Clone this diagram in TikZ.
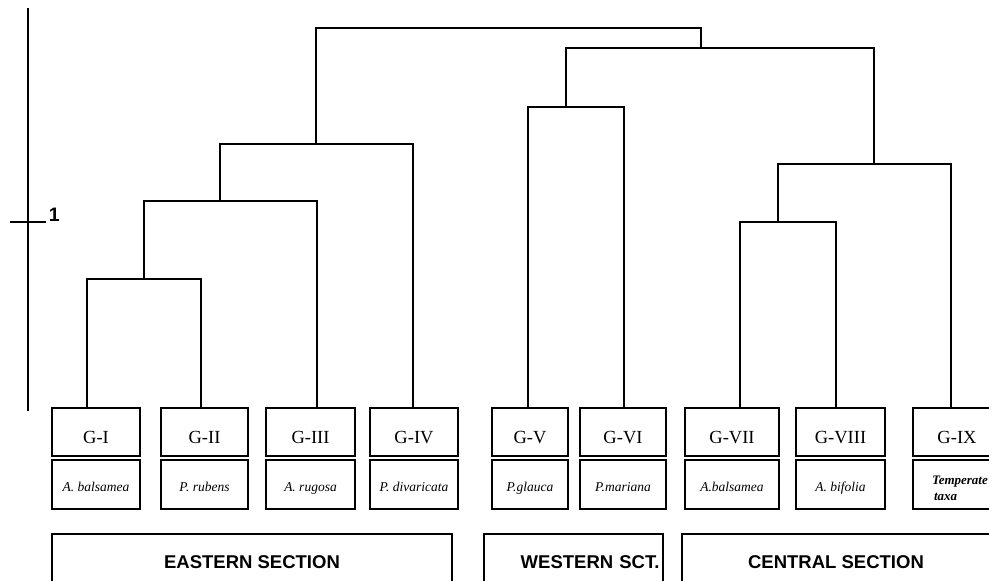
\documentclass[tikz,border=0pt]{standalone}
\usepackage{fontspec}
\setmainfont{Liberation Serif}
\setsansfont{Liberation Sans}
\usetikzlibrary{positioning}

\begin{document}
\begin{tikzpicture}[x=1pt,y=-1pt,line width=1.6pt,node distance=4pt,
  gbox/.style={draw,inner sep=0pt,outer sep=0pt,minimum width=88pt,minimum height=48pt,
    text height=22pt,text depth=0pt,font=\fontsize{18.5}{20}\selectfont},
  sbox/.style={draw,inner sep=0pt,outer sep=0pt,minimum width=88pt,minimum height=49pt,
    text height=14pt,text depth=0pt,font=\fontsize{13.5}{15}\selectfont\itshape},
  secbox/.style={draw,inner sep=0pt,outer sep=0pt,minimum height=56pt,
    font=\fontsize{18.5}{20}\selectfont\sffamily\bfseries}]
\useasboundingbox (0,0) rectangle (989,581);
\clip (0,0) rectangle (989,581);

\draw (28,8) -- (28,411);
\draw (10,222) -- (46,222);
\node[anchor=south west,inner sep=0pt,font=\fontsize{19.5}{20}\selectfont\sffamily\bfseries] (one) at (48,222) {1};

\node[gbox] (g1) at (96,432) {G-I};
\node[gbox,minimum width=87pt] (g2) at (204.5,432) {G-II};
\node[gbox,minimum width=89pt] (g3) at (310.5,432) {G-III};
\node[gbox] (g4) at (414,432) {G-IV};
\node[gbox,minimum width=76pt] (g5) at (530,432) {G-V};
\node[gbox,minimum width=86pt] (g6) at (623,432) {G-VI};
\node[gbox,minimum width=94pt] (g7) at (732,432) {G-VII};
\node[gbox,minimum width=89pt] (g8) at (840.5,432) {G-VIII};
\node[gbox] (g9) at (957,432) {G-IX};

\node[sbox,below=of g1] (s1) {A. balsamea};
\node[sbox,minimum width=87pt,below=of g2] (s2) {P. rubens};
\node[sbox,minimum width=89pt,below=of g3] (s3) {A. rugosa};
\node[sbox,below=of g4] (s4) {P. divaricata};
\node[sbox,minimum width=76pt,below=of g5] (s5) {P.glauca};
\node[sbox,minimum width=86pt,below=of g6] (s6) {P.mariana};
\node[sbox,minimum width=94pt,below=of g7] (s7) {A.balsamea};
\node[sbox,minimum width=89pt,below=of g8] (s8) {A. bifolia};
\node[sbox,below=of g9,text height=0pt,align=left,text width=70pt,
  font=\fontsize{13}{15.5}\selectfont\bfseries\itshape] (s9) {\hspace*{10pt}Temperate\\\hspace*{12pt}taxa};

\node[secbox,minimum width=400pt] (east) at (252,562) {EASTERN SECTION};
\node[secbox,minimum width=179pt,text width=172pt,align=right] (west) at (573.5,562) {WESTERN SCT.};
\node[secbox,minimum width=308pt] (central) at (836,562) {CENTRAL SECTION};

\coordinate (t1) at (87,408);
\coordinate (t2) at (201,408);
\coordinate (t3) at (317,408);
\coordinate (t4) at (413,408);
\coordinate (t5) at (528,408);
\coordinate (t6) at (624,408);
\coordinate (t7) at (740,408);
\coordinate (t8) at (836,408);
\coordinate (t9) at (951,408);

\coordinate (m12) at (144,279);
\coordinate (m123) at (220,201);
\coordinate (m1234) at (316,144);
\coordinate (m56) at (566,107);
\coordinate (m78) at (778,222);
\coordinate (m789) at (874,164);
\coordinate (mR) at (701,48);
\coordinate (root) at (508,28);

\draw (t1) |- (m12) -| (t2);
\draw (m12) |- (m123) -| (t3);
\draw (m123) |- (m1234) -| (t4);
\draw (t5) |- (m56) -| (t6);
\draw (t7) |- (m78) -| (t8);
\draw (m78) |- (m789) -| (t9);
\draw (m56) |- (mR) -| (m789);
\draw (m1234) |- (root) -| (mR);
\end{tikzpicture}
\end{document}
